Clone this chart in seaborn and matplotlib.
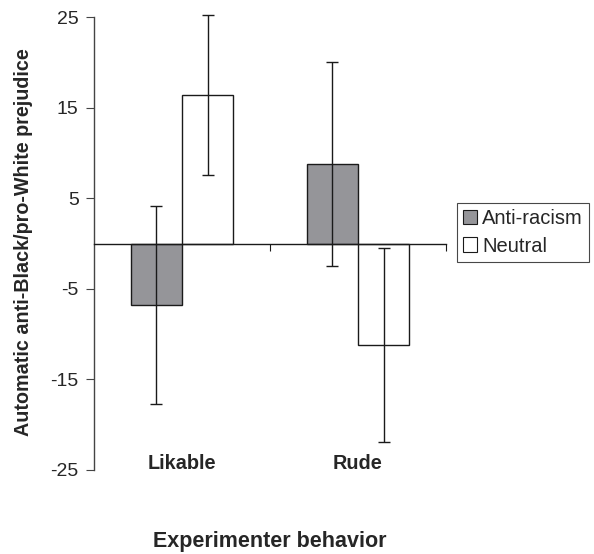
import matplotlib
matplotlib.use("Agg")
import matplotlib.pyplot as plt
import matplotlib.transforms as mtransforms
from matplotlib.patches import Patch
import seaborn as sns
import pandas as pd

# ---- data ----
behaviors = ["Likable", "Rude"]
conditions = ["Anti-racism", "Neutral"]
anti_racism_means = [-6.8, 8.8]
neutral_means = [16.4, -11.2]
anti_racism_err = [10.95, 11.25]
neutral_err = [8.85, 10.75]
y_ticks = [-25, -15, -5, 5, 15, 25]

df = pd.DataFrame({
    "behavior": behaviors * 2,
    "condition": [conditions[0]] * 2 + [conditions[1]] * 2,
    "value": anti_racism_means + neutral_means,
    "err": anti_racism_err + neutral_err,
})

sns.set_theme(style="white")
plt.rcParams["font.family"] = ["Liberation Sans", "DejaVu Sans"]

fig = plt.figure(figsize=(5.94, 5.54), dpi=100)
ax = fig.add_axes([94 / 594, 1 - 470 / 554, (446 - 94) / 594, (470 - 17) / 554])

palette = {"Anti-racism": "#959599", "Neutral": "#ffffff"}
sns.barplot(data=df, x="behavior", y="value", hue="condition", order=behaviors,
            hue_order=conditions, palette=palette, width=0.58, errorbar=None,
            edgecolor="#1a1a1a", linewidth=1.0, saturation=1, ax=ax, legend=False)

# error bars at bar centers
for cond_i, cond in enumerate(conditions):
    sub = df[df["condition"] == cond].set_index("behavior").loc[behaviors]
    bars = ax.containers[cond_i]
    xs = [b.get_x() + b.get_width() / 2 for b in bars]
    eb = ax.errorbar(xs, sub["value"].values, yerr=sub["err"].values, fmt="none",
                     ecolor="#1a1a1a", elinewidth=1.0, capsize=4, capthick=1.0, zorder=5)
    for art in eb.lines[1] + eb.lines[2]:
        art.set_clip_on(False)

ax.set_xlim(-0.5, 1.5)
ax.set_ylim(-25, 25)
ax.set_yticks(y_ticks)
ax.set_yticklabels([str(t) for t in y_ticks], fontsize=14)
ax.tick_params(axis="y", direction="out", length=6, width=0.8, color="#444444",
               pad=5, left=True)

# x axis through zero
ax.spines["bottom"].set_position(("data", 0))
ax.spines["bottom"].set_color("#1a1a1a")
ax.spines["bottom"].set_linewidth(1.0)
ax.spines["left"].set_color("#444444")
ax.spines["left"].set_linewidth(1.0)
ax.spines["top"].set_visible(False)
ax.spines["right"].set_visible(False)
ax.set_xticks([0.5, 1.5])
ax.set_xticklabels(["", ""])
ax.tick_params(axis="x", direction="out", length=5, width=0.8, color="#1a1a1a", bottom=True)
ax.set_xlabel("")
ax.set_ylabel("Automatic anti-Black/pro-White prejudice", fontsize=14.2,
              fontweight="bold")
ax.yaxis.set_label_coords(-0.173, 0.503)

trans = mtransforms.blended_transform_factory(ax.transData, ax.transAxes)
for i, b in enumerate(behaviors):
    ax.text(i, 0.015, b, transform=trans, ha="center", va="center",
            fontsize=14.3, fontweight="bold")

fig.text(270 / 594, 1 - 541 / 554, "Experimenter behavior", ha="center", va="center",
         fontsize=15.5, fontweight="bold")

handles = [Patch(facecolor=palette[c], edgecolor="#1a1a1a", linewidth=0.8) for c in conditions]
leg = fig.legend(handles, conditions, loc="center left",
                 bbox_to_anchor=(457 / 594, 1 - 232.5 / 554), fontsize=14.5,
                 frameon=True, fancybox=False, handlelength=0.7, handleheight=0.7,
                 handletextpad=0.25, borderpad=0.3, labelspacing=0.4, borderaxespad=0)
leg.get_frame().set_edgecolor("#1a1a1a")
leg.get_frame().set_linewidth(0.8)

fig.savefig("out.png", dpi=100)
